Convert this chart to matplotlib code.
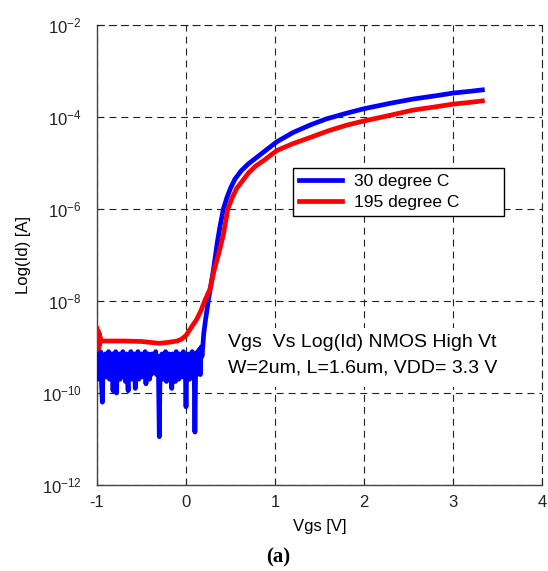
import numpy as np
import matplotlib
matplotlib.use("Agg")
import matplotlib.pyplot as plt
from matplotlib.patches import Rectangle

plt.rcParams['font.family'] = ['Liberation Sans', 'DejaVu Sans']
plt.rcParams['mathtext.fontset'] = 'custom'
plt.rcParams['mathtext.rm'] = 'Liberation Sans'
plt.rcParams['mathtext.it'] = 'Liberation Sans'
plt.rcParams['axes.unicode_minus'] = False
plt.rcParams['lines.scale_dashes'] = False

# ---- data (Vgs in V, log10 of Id in A) ----
blue_vgs = [-1.00, -0.99, -0.98, -0.97, -0.96, -0.95, -0.94, -0.93, -0.92, -0.91,
            -0.90, -0.89, -0.88, -0.87, -0.86, -0.85, -0.84, -0.83, -0.82, -0.81,
            -0.80, -0.79, -0.78, -0.77, -0.76, -0.75, -0.74, -0.73, -0.72, -0.71,
            -0.70, -0.69, -0.68, -0.67, -0.66, -0.65, -0.64, -0.63, -0.62, -0.61,
            -0.60, -0.59, -0.58, -0.57, -0.56, -0.55, -0.54, -0.53, -0.52, -0.51,
            -0.50, -0.49, -0.48, -0.47, -0.46, -0.45, -0.44, -0.43, -0.42, -0.41,
            -0.40, -0.39, -0.38, -0.37, -0.36, -0.35, -0.34, -0.33, -0.32, -0.31,
            -0.30, -0.29, -0.28, -0.27, -0.26, -0.25, -0.24, -0.23, -0.22, -0.21,
            -0.20, -0.19, -0.18, -0.17, -0.16, -0.15, -0.14, -0.13, -0.12, -0.11,
            -0.10, -0.09, -0.08, -0.07, -0.06, -0.05, -0.04, -0.03, -0.02, -0.01,
            0.00, 0.01, 0.02, 0.03, 0.04, 0.05, 0.06, 0.07, 0.08, 0.09,
            0.10, 0.11, 0.12, 0.13, 0.14, 0.15, 0.16, 0.17, 0.18,
            0.20, 0.22, 0.25, 0.28, 0.31, 0.35, 0.38, 0.42, 0.46, 0.50,
            0.55, 0.62, 0.70, 0.80, 0.90, 1.02, 1.20, 1.40, 1.58, 1.80,
            2.00, 2.30, 2.55, 2.80, 3.00, 3.20, 3.33]
blue_logid = [-9.15, -9.7, -9.2, -9.6, -9.1, -9.75, -10.2, -9.2, -9.6, -9.15,
              -9.65, -9.2, -9.5, -9.1, -9.7, -9.2, -9.6, -9.15, -9.95, -9.2,
              -9.7, -9.1, -10.0, -9.2, -9.6, -9.15, -9.7, -9.2, -9.55, -9.1,
              -9.65, -9.2, -9.75, -9.15, -9.6, -9.95, -9.2, -9.6, -9.1, -9.7,
              -9.2, -9.55, -9.15, -9.9, -9.2, -9.6, -9.1, -9.7, -9.2, -9.5,
              -9.15, -9.65, -9.2, -9.6, -9.1, -9.8, -9.2, -9.55, -9.15, -9.7,
              -9.2, -9.6, -9.15, -9.55, -9.2, -9.45, -9.1, -9.6, -9.2, -9.5,
              -10.95, -9.2, -9.6, -9.15, -9.7, -9.2, -9.5, -9.1, -9.75, -9.2,
              -9.6, -9.15, -9.7, -9.2, -9.9, -9.15, -9.6, -9.2, -9.75, -9.1,
              -9.6, -9.2, -9.7, -9.15, -9.55, -9.2, -9.65, -9.1, -9.6, -9.2,
              -10.3, -9.2, -9.6, -9.15, -9.7, -9.2, -9.5, -9.1, -9.65, -9.2,
              -10.85, -9.15, -9.6, -9.1, -9.5, -9.05, -9.6, -9.0, -9.2,
              -8.7, -8.4, -8.0, -7.65, -7.3, -6.75, -6.4, -6.0, -5.75, -5.55,
              -5.35, -5.17, -5.02, -4.87, -4.72, -4.54, -4.34, -4.17, -4.04, -3.92,
              -3.82, -3.70, -3.61, -3.54, -3.48, -3.44, -3.41]

red_vgs = [-1.00, -0.99, -0.985, -0.98, -0.975, -0.97, -0.96, -0.95, -0.70, -0.50,
           -0.30, -0.20, -0.10, -0.05, 0.00, 0.05, 0.12, 0.17, 0.21, 0.27,
           0.32, 0.37, 0.42, 0.47, 0.52, 0.57, 0.63, 0.70, 0.78, 0.87,
           1.02, 1.20, 1.36, 1.60, 1.80, 1.99, 2.30, 2.55, 2.80, 3.00,
           3.20, 3.33]
red_logid = [-8.6, -9.05, -8.65, -9.0, -8.7, -8.95, -8.8, -8.87, -8.87, -8.88,
             -8.92, -8.9, -8.87, -8.83, -8.75, -8.6, -8.4, -8.2, -8.0, -7.74,
             -7.3, -6.95, -6.56, -6.0, -5.75, -5.55, -5.4, -5.22, -5.07, -4.95,
             -4.73, -4.58, -4.47, -4.30, -4.18, -4.09, -3.96, -3.85, -3.78, -3.72,
             -3.68, -3.65]

series_labels = ['30 degree C', '195 degree C']
x_ticks = [-1, 0, 1, 2, 3, 4]
y_ticks = [1e-12, 1e-10, 1e-8, 1e-6, 1e-4, 1e-2]

fig = plt.figure(figsize=(5.48, 5.71), dpi=100)
ax = fig.add_axes([97/548, 1-485/571, 445/548, 460/571])

ax.plot(blue_vgs, 10**np.array(blue_logid), color='#0000ff', lw=3.4,
        solid_joinstyle='round', label=series_labels[0], zorder=3)
ax.plot(red_vgs, 10**np.array(red_logid), color='#ff0000', lw=3.4,
        solid_joinstyle='round', label=series_labels[1], zorder=4)

ax.set_yscale('log')
ax.set_xlim(-1, 4)
ax.set_ylim(1e-12, 1e-2)
ax.set_xticks(x_ticks)
ax.set_yticks(y_ticks)
ax.minorticks_off()
ax.yaxis.set_major_formatter(plt.FuncFormatter(
    lambda v, p: r'$\mathregular{10^{%d}}$' % int(round(np.log10(v)))))
ax.tick_params(direction='in', length=4, width=0.8, labelsize=12, colors='#222222')
ax.tick_params(axis='x', pad=7)
ax.tick_params(axis='y', pad=11)

dash = (0, (5, 3.6))
ax.grid(True, color='#222222', linestyle=dash, linewidth=0.8)
ax.set_axisbelow(True)
for s in ['top', 'right']:
    ax.spines[s].set_linestyle(dash)
    ax.spines[s].set_linewidth(0.8)
    ax.spines[s].set_color('#222222')
for s in ['left', 'bottom']:
    ax.spines[s].set_linewidth(1.0)
    ax.spines[s].set_color('#444444')

ax.set_xlabel('Vgs [V]', fontsize=12, labelpad=7)
ax.set_ylabel('Log(Id) [A]', fontsize=12, labelpad=8)

leg = ax.legend(loc='upper left', bbox_to_anchor=(0.4404, 0.585, 0.474, 0.104),
                mode='expand', fontsize=12.5,
                frameon=True, fancybox=False, edgecolor='black', framealpha=1,
                borderaxespad=0, handlelength=2.5, handletextpad=0.65,
                borderpad=0.35, labelspacing=0.3)
leg.get_frame().set_linewidth(1.0)

# white background behind the annotation block
ax.add_patch(Rectangle((0.281, 0.213), 0.66, 0.128, transform=ax.transAxes,
                       facecolor='white', edgecolor='none', zorder=2))
ax.text(0.294, 0.309, 'Vgs  Vs Log(Id) NMOS High Vt', transform=ax.transAxes,
        fontsize=14, va='center', ha='left', zorder=5)
ax.text(0.294, 0.254, 'W=2um, L=1.6um, VDD= 3.3 V', transform=ax.transAxes,
        fontsize=14, va='center', ha='left', zorder=5)

fig.text(278/548, 1-557/571, '(a)', fontsize=15, fontweight='bold',
         family='Liberation Serif', ha='center', va='center')

fig.savefig('out.png', dpi=100, facecolor='white')
